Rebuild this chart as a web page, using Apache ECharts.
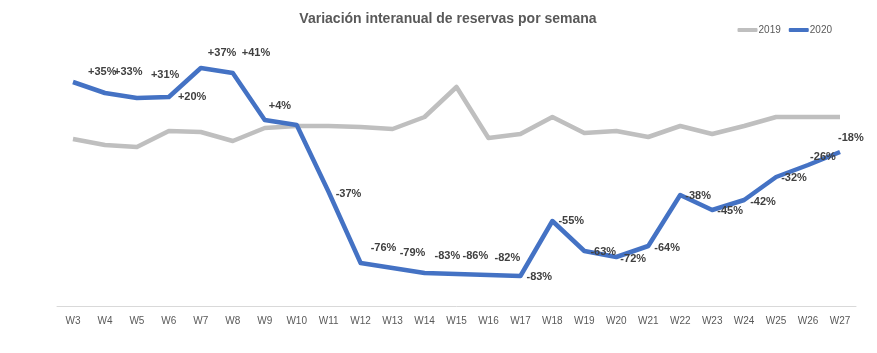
<!DOCTYPE html>
<html>
<head>
    <meta charset="UTF-8">
    <title>Variación interanual de reservas por semana</title>
    <script src="https://cdn.jsdelivr.net/npm/echarts@6/dist/echarts.min.js"></script>
    <style>
        html, body { margin: 0; padding: 0; background: #fff; }
    </style>
</head>
<body>
    <div id="chart" style="width:877px;height:353px;"></div>
    <script>
        // semanas
        const weeks = ['W3','W4','W5','W6','W7','W8','W9','W10','W11','W12','W13','W14','W15',
                       'W16','W17','W18','W19','W20','W21','W22','W23','W24','W25','W26','W27'];
        // nivel de reservas (escala relativa)
        const values2019 = [167,161,159,175,174,165,178,180,180,179,177,189,219,
                            168,172,189,173,175,169,180,172,180,189,189,189];
        const values2020 = [224,213,208,209,238,233,186,181,114,43,38,33,32,
                            31,30,85,55,49,60,111,96,106,129,141,154];
        // etiquetas de variación interanual (W10 sin etiqueta)
        const labels2020 = ['+35%','+33%','+31%','+20%','+37%','+41%','+4%','','-37%','-76%','-79%','-83%','-86%',
                            '-82%','-83%','-55%','-63%','-72%','-64%','-38%','-45%','-42%','-32%','-26%','-18%'];
        // desplazamiento de cada etiqueta (movidas a mano en el original)
        const labelDx = [11,5,10,5,3,5,0,0,3,6,3,6,2,2,2,2,2,0,2,1,1,2,1,-2,-6];
        const labelDy = [-10,-21,-23,0,-15,-20,-14,0,2,-15,-15,-17,-18,
                         -17,1,0,1,2,2,1,1,2,1,-8,-14];

        const chart = echarts.init(document.getElementById('chart'));
        chart.setOption({
            animation: false,
            textStyle: { fontFamily: 'Liberation Sans, sans-serif' },
            title: {
                text: 'Variación interanual de reservas por semana',
                left: 443, top: 7, textAlign: 'center',
                textStyle: { fontSize: 14, fontWeight: 'bold', color: '#595959' }
            },
            legend: {
                right: 40, top: 20,
                itemWidth: 20, itemHeight: 4, itemGap: 8,
                icon: 'roundRect',
                textStyle: { fontSize: 10, color: '#595959', padding: [0,0,0,-4] },
                data: ['2019', '2020']
            },
            grid: { left: 57, right: 21, top: 20, bottom: 47 },
            xAxis: {
                type: 'category',
                data: weeks,
                boundaryGap: true,
                axisLine: { lineStyle: { color: '#d9d9d9', width: 1 } },
                axisTick: { show: false },
                axisLabel: { color: '#595959', fontSize: 10, margin: 10, interval: 0 }
            },
            yAxis: {
                type: 'value', min: 0, max: 286,
                show: false, splitLine: { show: false }
            },
            series: [
                {
                    name: '2019', type: 'line', data: values2019,
                    symbol: 'none',
                    lineStyle: { color: '#bfbfbf', width: 4.5, join: 'round' },
                    itemStyle: { color: '#bfbfbf' }
                },
                {
                    name: '2020', type: 'line',
                    data: values2020.map((v, i) => ({
                        value: v,
                        label: {
                            show: labels2020[i] !== '',
                            formatter: labels2020[i],
                            offset: [labelDx[i], labelDy[i]]
                        }
                    })),
                    symbol: 'circle', symbolSize: 0.1,
                    showSymbol: true, showAllSymbol: true,
                    lineStyle: { color: '#4472c4', width: 4.5, join: 'round' },
                    itemStyle: { color: '#4472c4' },
                    label: {
                        show: true,
                        position: 'right', distance: 4,
                        fontSize: 11, fontWeight: 'bold', color: '#404040'
                    }
                }
            ]
        });
    </script>
</body>
</html>
